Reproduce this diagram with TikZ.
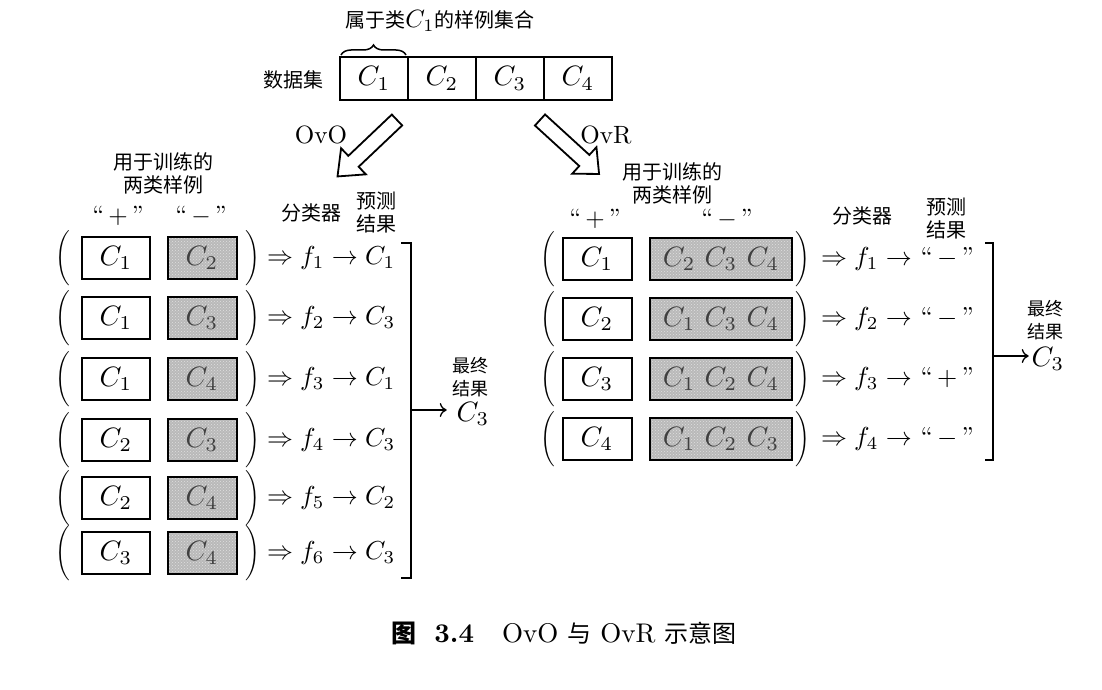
\documentclass[tikz,border=0pt]{standalone}
\usepackage{fontspec}
\newfontfamily\cjk{Noto Sans CJK SC}
\usetikzlibrary{decorations.pathreplacing,patterns,arrows.meta}
\newcommand\mybig[1]{\scalebox{2.8}{#1}}
\newcommand\myrow[1]{\scalebox{2.6}{#1}}
\newcommand\mymid[1]{\scalebox{2.5}{#1}}
\newcommand\mypar[1]{\scalebox{2.0}[2.3]{$\bigg#1$}}
\begin{document}
\begin{tikzpicture}[x=1pt,y=-1pt,
  every node/.style={inner sep=0pt,outer sep=0pt,font=\normalsize},
  cjkt/.style={font=\cjk\fontsize{20}{24}\selectfont},
  cjks/.style={font=\cjk\fontsize{18}{20}\selectfont},
  cell/.style={draw,line width=1.6pt,minimum width=68pt,minimum height=43pt},
  posbox/.style={draw,line width=2pt,minimum width=68pt,minimum height=42pt},
  negbox/.style={posbox,text=black!75,preaction={fill=gray!55},pattern=crosshatch dots,pattern color=white!75!gray},
  hollow/.style={draw,line width=1.8pt,line join=miter,fill=white},
  brk/.style={line width=1.3pt},
  resarrow/.style={line width=1.3pt,-{Computer Modern Rightarrow[length=7pt,width=14pt]}}
]
\useasboundingbox (0,0) rectangle (1102,690);
\fill[white] (0,0) rectangle (1102,690);

% top data set
\node[cjkt] (lbl) at (440,21) {属于类{\normalsize\mymid{$C_1$}}的样例集合};
\node[cjkt] (ds) at (293,80) {数据集};
\node[cell] (d1) at (374,78.5) {\mybig{$C_1$}};
\node[cell] (d2) at (442,78.5) {\mybig{$C_2$}};
\node[cell] (d3) at (510,78.5) {\mybig{$C_3$}};
\node[cell] (d4) at (578,78.5) {\mybig{$C_4$}};
\coordinate (bl) at (341,55);
\coordinate (br) at (406,55);
\draw[decorate,decoration={brace,amplitude=10pt},line width=1.5pt] (bl) -- (br);

% hollow arrows
\node (ovo) at (321,135) {\mymid{OvO}};
\node (ovr) at (606,135) {\mymid{OvR}};
\begin{scope}[shift={(397,120)},rotate=223.5]
\draw[hollow] (0,-7.5) -- (60,-7.5) -- (60,-18) -- (82,0) -- (60,18) -- (60,7.5) -- (0,7.5) -- cycle;
\end{scope}
\begin{scope}[shift={(540,120)},rotate=-42.4]
\draw[hollow] (0,-7.5) -- (60,-7.5) -- (60,-18) -- (80,0) -- (60,18) -- (60,7.5) -- (0,7.5) -- cycle;
\end{scope}

% ---------- OvO ----------
\node[cjkt] (lh1) at (163,162) {用于训练的};
\node[cjkt] (lh2) at (163,185) {两类样例};
\node (lplus) at (118,216) {\mymid{``\,$+$\,''}};
\node (lminus) at (201,216) {\mymid{``\,$-$\,''}};
\node[cjkt] (lcls) at (311,213) {分类器};
\node[cjkt] (lpr1) at (376,201) {预测};
\node[cjkt] (lpr2) at (376,224) {结果};

\foreach \i/\y/\p/\n/\r in {1/258/1/2/1,2/318/1/3/3,3/379/1/4/1,4/440/2/3/3,5/498/2/4/2,6/553/3/4/3}{
  \node (lo\i) at (63,\y) {\mypar{(}};
  \node[posbox] (lp\i) at (116,\y) {\mybig{$C_\p$}};
  \node[negbox,minimum width=69pt] (ln\i) at (202,\y) {\mybig{$C_\n$}};
  \node (lc\i) at (253,\y) {\mypar{)}};
  \node[anchor=west] (lf\i) at (267,\y) {\myrow{$\Rightarrow f_\i \rightarrow C_\r$}};
}
\coordinate (lb1) at (401,243);
\coordinate (lb2) at (411,243);
\coordinate (lb3) at (411,578);
\coordinate (lb4) at (401,578);
\draw[brk] (lb1) -- (lb2) -- (lb3) -- (lb4);
\coordinate (lam) at (411,410);
\node[cjks] (lfin1) at (470,366) {最终};
\node[cjks] (lfin2) at (470,389) {结果};
\node (lres) at (473,414) {\mybig{$C_3$}};
\draw[resarrow,shorten >=10pt] (lam) -- (lres.west |- lam);

% ---------- OvR ----------
\node[cjkt] (rh1) at (672,172) {用于训练的};
\node[cjkt] (rh2) at (672,195) {两类样例};
\node (rplus) at (595,219) {\mymid{``\,$+$\,''}};
\node (rminus) at (727,219) {\mymid{``\,$-$\,''}};
\node[cjkt] (rcls) at (862,216) {分类器};
\node[cjkt] (rpr1) at (946,207) {预测};
\node[cjkt] (rpr2) at (946,230) {结果};

\foreach \i/\y/\p/\n/\r in {1/259/1/{C_2\ C_3\ C_4}/-,2/319/2/{C_1\ C_3\ C_4}/-,3/379/3/{C_1\ C_2\ C_4}/+,4/439/4/{C_1\ C_2\ C_3}/-}{
  \node (ro\i) at (548,\y) {\mypar{(}};
  \node[posbox,minimum width=69pt] (rp\i) at (597,\y) {\mybig{$C_\p$}};
  \node[negbox,minimum width=142pt] (rn\i) at (721,\y) {\mybig{$\n$}};
  \node (rc\i) at (803,\y) {\mypar{)}};
  \node[anchor=west] (rf\i) at (821,\y) {\myrow{$\Rightarrow f_\i \rightarrow$ ``\,$\r$\,''}};
}
\coordinate (rb1) at (985,243);
\coordinate (rb2) at (993,243);
\coordinate (rb3) at (993,460);
\coordinate (rb4) at (985,460);
\draw[brk] (rb1) -- (rb2) -- (rb3) -- (rb4);
\coordinate (ram) at (993,356);
\node[cjks] (rfin1) at (1045,309) {最终};
\node[cjks] (rfin2) at (1045,332) {结果};
\node (rres) at (1048,359) {\mybig{$C_3$}};
\draw[resarrow,shorten >=3pt] (ram) -- (rres.west |- ram);

% caption
\node (cap) at (564,633) {{\cjk\bfseries\fontsize{25}{28}\selectfont 图}\hspace{18pt}\scalebox{2.7}{\bfseries 3.4}\hspace{28pt}\scalebox{2.7}{OvO}\hspace{9pt}{\cjk\fontsize{24}{28}\selectfont 与}\hspace{9pt}\scalebox{2.7}{OvR}\hspace{9pt}{\cjk\fontsize{24}{28}\selectfont 示意图}};
\end{tikzpicture}
\end{document}
